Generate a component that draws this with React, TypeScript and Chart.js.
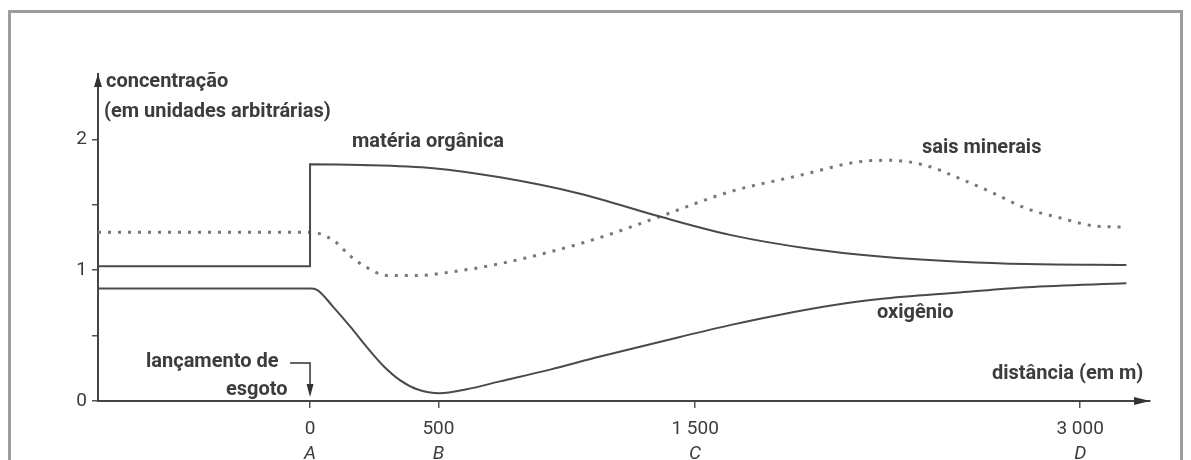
import React, { useEffect, useRef } from 'react';
import { Chart, registerables } from 'chart.js';

Chart.register(...registerables);

// distance (m)
const organicX = [-826, 0, 0, 200, 480, 740, 1052, 1363, 1636, 1960, 2220, 2532, 2793, 3180];
const organicY = [1.03, 1.03, 1.81, 1.805, 1.78, 1.71, 1.585, 1.41, 1.27, 1.16, 1.105, 1.065, 1.047, 1.04];

const saltsX = [-826, 0, 90, 156, 222, 300, 417, 545, 740, 935, 1130, 1363, 1636, 1897, 2143, 2260, 2400, 2532, 2661, 2793, 2922, 3050, 3165];
const saltsY = [1.29, 1.29, 1.23, 1.11, 1.02, 0.96, 0.96, 0.985, 1.05, 1.14, 1.25, 1.41, 1.6, 1.72, 1.83, 1.84, 1.8, 1.7, 1.59, 1.47, 1.4, 1.34, 1.33];

const oxygenX = [-826, 0, 27, 90, 156, 222, 285, 350, 417, 506, 610, 740, 935, 1130, 1441, 1636, 1831, 2030, 2220, 2532, 2793, 3180];
const oxygenY = [0.86, 0.86, 0.85, 0.72, 0.57, 0.41, 0.27, 0.16, 0.09, 0.06, 0.09, 0.15, 0.24, 0.34, 0.49, 0.58, 0.66, 0.73, 0.78, 0.83, 0.87, 0.9];

const xTickValues = [0, 500, 1500, 3000];
const xTickLabels = ['0', '500', '1 500', '3 000'];
const xTickLetters = ['A', 'B', 'C', 'D'];
const yTickValues = [0, 0.5, 1, 1.5, 2];

const FONT = "Roboto, 'DejaVu Sans', sans-serif";
const TEXT = '#3c3c3c';
const LINE = '#4a4a4a';

const toPoints = (xs: number[], ys: number[]) => xs.map((x, i) => ({ x, y: ys[i] }));

const decor = {
  id: 'decor',
  beforeDraw(chart: any) {
    const ctx = chart.ctx;
    ctx.save();
    ctx.fillStyle = '#ffffff';
    ctx.fillRect(0, 0, chart.width, chart.height);
    ctx.strokeStyle = '#9c9c9c';
    ctx.lineWidth = 3;
    ctx.strokeRect(9.5, 11.5, 1172, 600);
    ctx.restore();
  },
  afterDraw(chart: any) {
    const ctx = chart.ctx;
    const xs = chart.scales.x;
    const ys = chart.scales.y;
    const left = chart.chartArea.left;
    const top = chart.chartArea.top;
    const right = chart.chartArea.right;
    const bottom = chart.chartArea.bottom;
    ctx.save();
    ctx.fillStyle = '#333';
    // y axis arrow
    ctx.beginPath();
    ctx.moveTo(left, top);
    ctx.lineTo(left - 4, top + 13);
    ctx.lineTo(left + 4, top + 13);
    ctx.closePath();
    ctx.fill();
    // x axis arrow
    ctx.beginPath();
    ctx.moveTo(right, bottom);
    ctx.lineTo(right - 16, bottom - 4);
    ctx.lineTo(right - 16, bottom + 4);
    ctx.closePath();
    ctx.fill();

    // letters under ticks
    ctx.fillStyle = TEXT;
    ctx.font = `italic 19px ${FONT}`;
    ctx.textAlign = 'center';
    ctx.textBaseline = 'alphabetic';
    xTickValues.forEach((v, i) => {
      ctx.fillText(xTickLetters[i], xs.getPixelForValue(v), 459);
    });

    // labels
    ctx.font = `bold 20px ${FONT}`;
    ctx.textAlign = 'left';
    ctx.fillText('concentração', 106, 87);
    ctx.fillText('(em unidades arbitrárias)', 104, 117);
    ctx.fillText('matéria orgânica', 352, 147);
    ctx.fillText('sais minerais', 922, 153);
    ctx.fillText('oxigênio', 877, 318);
    ctx.fillText('distância (em m)', 992, 379);
    ctx.fillText('lançamento de', 146, 367);
    ctx.fillText('esgoto', 226, 395);

    // leader to discharge point
    const x0 = xs.getPixelForValue(0);
    ctx.strokeStyle = '#333';
    ctx.lineWidth = 1.5;
    ctx.beginPath();
    ctx.moveTo(290, 363);
    ctx.lineTo(x0, 363);
    ctx.lineTo(x0, 385);
    ctx.stroke();
    ctx.fillStyle = '#333';
    ctx.beginPath();
    ctx.moveTo(x0, ys.getPixelForValue(0) - 4);
    ctx.lineTo(x0 - 3.5, ys.getPixelForValue(0) - 17);
    ctx.lineTo(x0 + 3.5, ys.getPixelForValue(0) - 17);
    ctx.closePath();
    ctx.fill();
    ctx.restore();
  },
};

export default function App() {
  const ref = useRef<HTMLCanvasElement | null>(null);
  useEffect(() => {
    if (!ref.current) return;
    const chart = new Chart(ref.current, {
      type: 'line',
      data: {
        datasets: [
          {
            label: 'matéria orgânica',
            data: toPoints(organicX, organicY),
            borderColor: LINE,
            borderWidth: 2,
            pointRadius: 0,
            cubicInterpolationMode: 'monotone',
          },
          {
            label: 'sais minerais',
            data: toPoints(saltsX, saltsY),
            borderColor: '#777',
            borderWidth: 3,
            borderDash: [3, 7],
            borderCapStyle: 'butt',
            pointRadius: 0,
            cubicInterpolationMode: 'monotone',
          },
          {
            label: 'oxigênio',
            data: toPoints(oxygenX, oxygenY),
            borderColor: LINE,
            borderWidth: 2,
            pointRadius: 0,
            cubicInterpolationMode: 'monotone',
          },
        ],
      },
      options: {
        responsive: false,
        animation: false,
        layout: { padding: { top: 74, right: 41, bottom: 0, left: 0 } },
        plugins: { legend: { display: false }, tooltip: { enabled: false } },
        scales: {
          x: {
            type: 'linear',
            min: -826,
            max: 3272,
            afterBuildTicks: (s: any) => {
              s.ticks = xTickValues.map((v) => ({ value: v }));
            },
            afterFit: (s: any) => {
              s.height = 59;
            },
            ticks: {
              autoSkip: false,
              maxRotation: 0,
              padding: 10,
              color: TEXT,
              font: { family: FONT, size: 19 },
              callback: (v: any) => {
                const i = xTickValues.indexOf(Number(v));
                return i >= 0 ? xTickLabels[i] : '';
              },
            },
            grid: { drawOnChartArea: false, drawTicks: true, tickLength: 7, color: '#555', lineWidth: 1.5 },
            border: { display: true, color: '#444', width: 2 },
          },
          y: {
            type: 'linear',
            min: 0,
            max: 2.5,
            afterBuildTicks: (s: any) => {
              s.ticks = yTickValues.map((v) => ({ value: v }));
            },
            afterFit: (s: any) => {
              s.width = 98;
            },
            ticks: {
              padding: 5,
              color: TEXT,
              font: { family: FONT, size: 19 },
              callback: (v: any) => (Number.isInteger(Number(v)) ? String(v) : ''),
            },
            grid: { drawOnChartArea: false, drawTicks: true, tickLength: 6, color: '#555', lineWidth: 1.5 },
            border: { display: true, color: '#444', width: 2 },
          },
        },
      },
      plugins: [decor],
    } as any);
    return () => chart.destroy();
  }, []);
  return (
    <div style={{ position: 'fixed', left: 0, top: 0, width: 1191, height: 460, background: '#fff' }}>
      <canvas ref={ref} width={1191} height={460} style={{ width: 1191, height: 460, display: 'block' }} />
    </div>
  );
}
